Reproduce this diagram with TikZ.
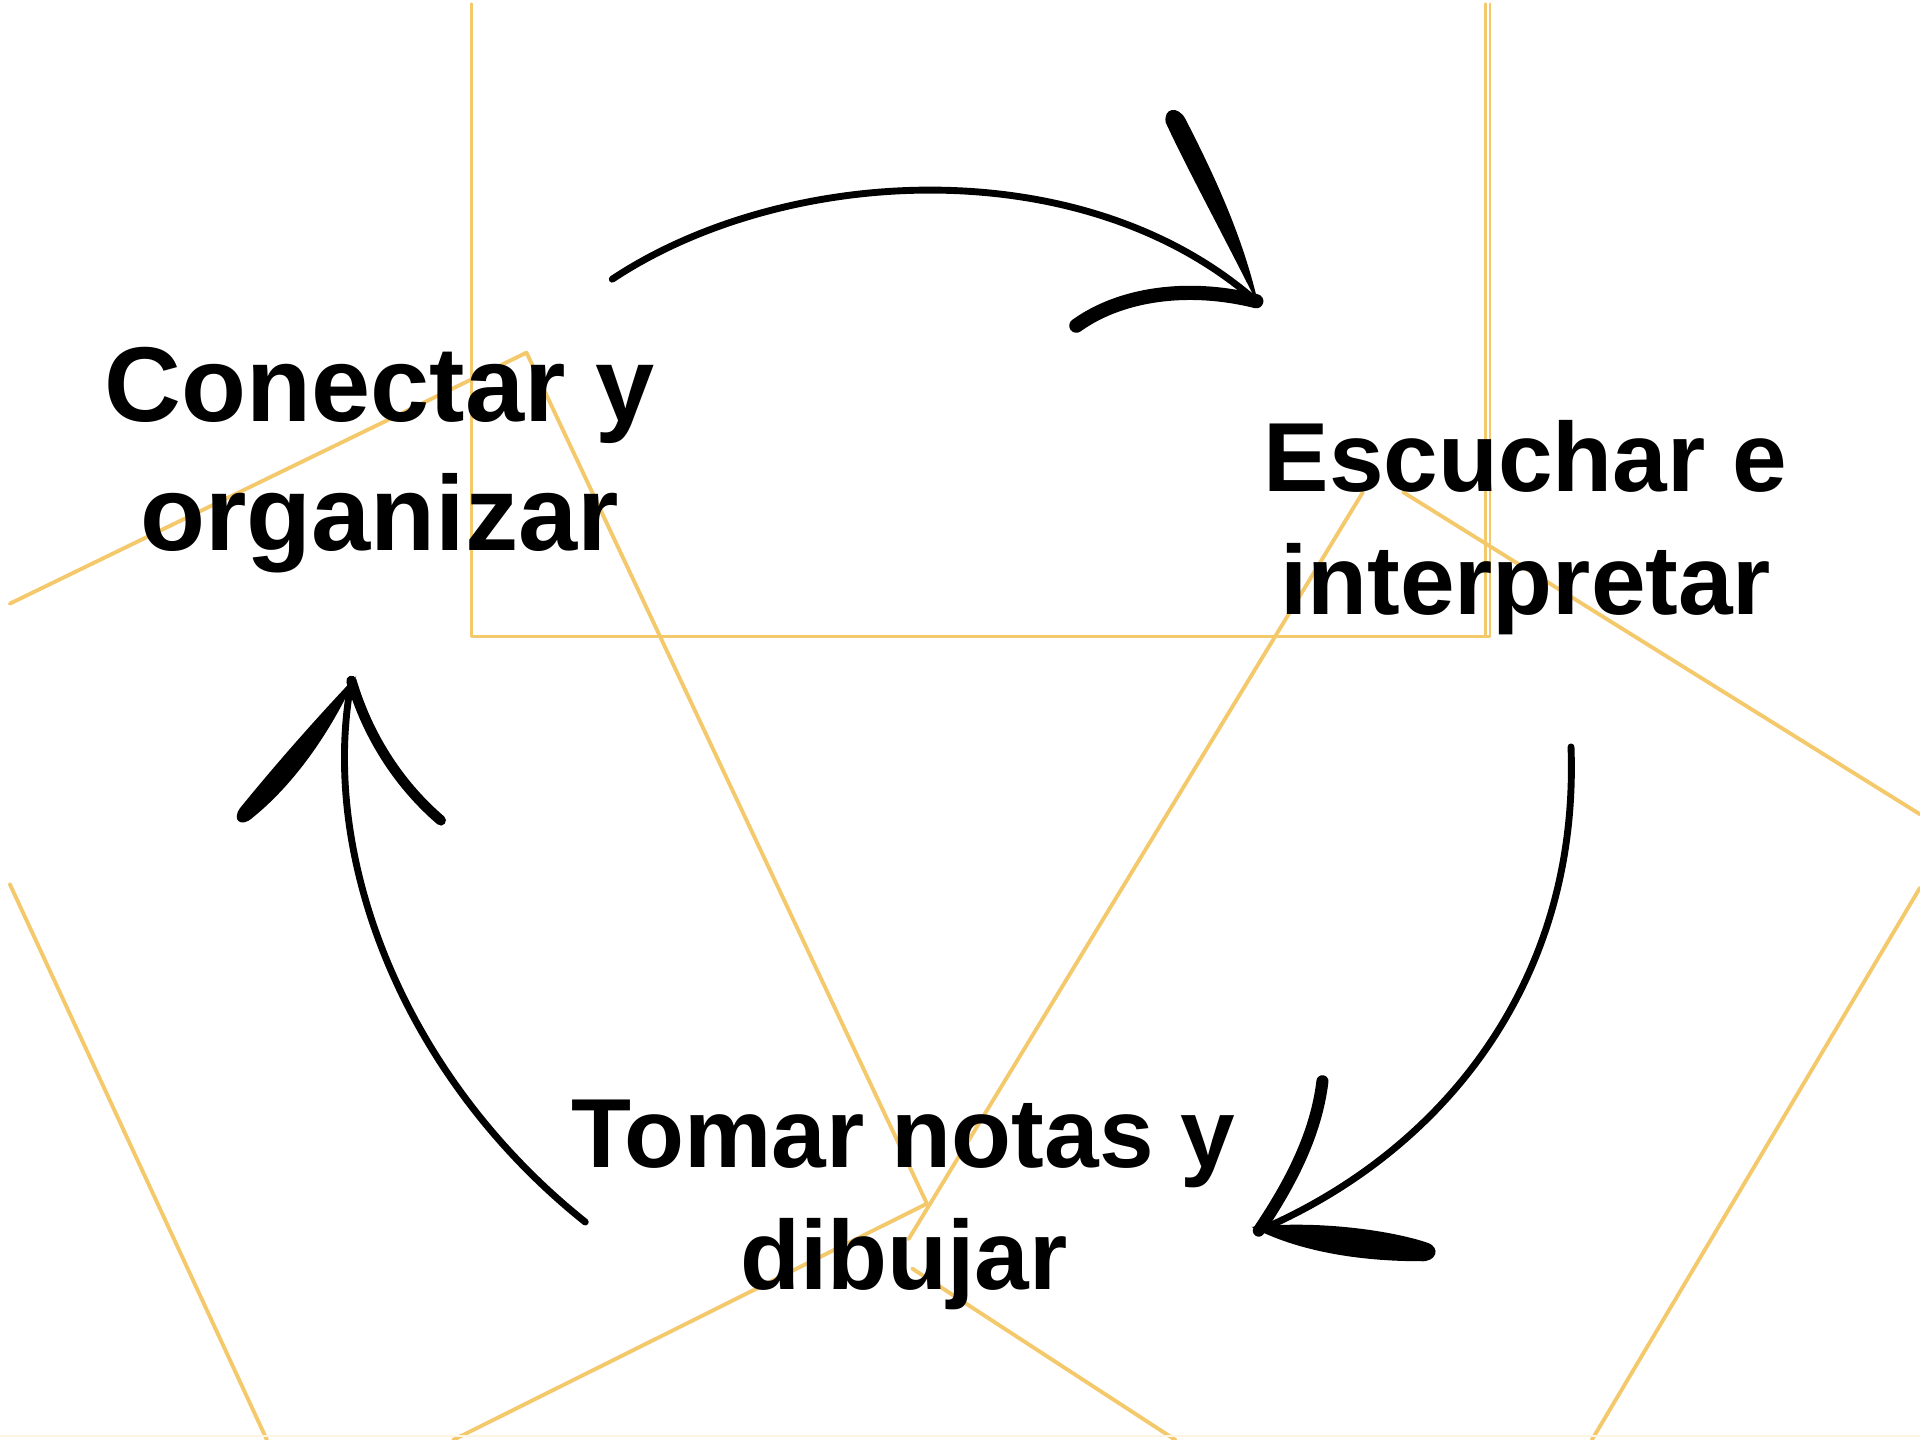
\documentclass[tikz,border=0pt]{standalone}
\usepackage{fontspec}
\setmainfont{Liberation Sans}
\definecolor{oro}{RGB}{244,201,108}

\begin{document}
\begin{tikzpicture}[x=0.01cm, y=-0.01cm, line cap=round, line join=round,
    fondo/.style={draw=oro, line width=0.9pt},
    marco/.style={draw=oro, line width=0.6pt},
    etiqueta/.style={align=center, inner sep=0pt, font=\bfseries\fontsize{22.8}{28.5}\selectfont},
    trazo/.style={draw=black, line width=1.6pt},
    punta/.style={draw=black, line width=2.8pt}]
    \useasboundingbox (0,0) rectangle (1568,1176);

    % 背景的金色线条
    \draw[marco] (385,3) -- (385,520) -- (1217,520) -- (1217,3);
    \draw[marco] (1213,3) -- (1213,520);
    \draw[fondo] (8,493) -- (430,288) -- (757,983);
    \draw[fondo] (1113,402) -- (742,1012);
    \draw[fondo] (370,1176) -- (757,983);
    \draw[fondo] (745,1036) -- (960,1176);
    \draw[fondo] (1146,402) -- (1568,665);
    \draw[fondo] (1568,725) -- (1300,1176);
    \draw[fondo] (8,722) -- (218,1176);
    \draw[draw=oro!20, line width=0.5pt] (0,1173) -- (1568,1173);

    % 三个标签
    \node[etiqueta, font=\bfseries\fontsize{24.7}{29.9}\selectfont] (conectar) at (310,376) {Conectar y\\organizar};
    \node[etiqueta] (escuchar) at (1246,431) {Escuchar e\\interpretar};
    \node[etiqueta] (tomar) at (738,984) {Tomar notas y\\dibujar};

    % 上方箭头
    \coordinate (a1) at (500,228);
    \coordinate (a2) at (1026,246);
    \draw[trazo] (a1) .. controls (640,135) and (884,121) .. (a2);
    \fill (1028,250) .. controls (998,190) and (968,135) .. (952,100)
               .. controls (950,88) and (962,86) .. (968,97)
               .. controls (990,140) and (1015,192) .. cycle;
    \draw[punta, line width=3.3pt] (a2) .. controls (970,232) and (915,240) .. (879,266);

    % 右侧箭头
    \coordinate (b1) at (1283,610);
    \coordinate (b2) at (1028,1005);
    \draw[trazo] (b1) .. controls (1290,800) and (1180,940) .. (b2);
    \draw[punta] (b2) .. controls (1055,965) and (1075,925) .. (1080,883);
    \fill (1022,1002) .. controls (1080,996) and (1140,1006) .. (1166,1015)
               .. controls (1177,1019) and (1173,1031) .. (1160,1030)
               .. controls (1110,1030) and (1060,1022) .. cycle;

    % 左侧箭头
    \coordinate (c1) at (478,998);
    \coordinate (c2) at (287,556);
    \draw[trazo] (c1) .. controls (330,880) and (260,700) .. (c2);
    \fill (291,552) .. controls (255,590) and (222,628) .. (196,660)
               .. controls (189,670) and (197,676) .. (206,668)
               .. controls (237,643) and (267,604) .. cycle;
    \draw[punta, line width=2.4pt] (c2) .. controls (300,600) and (325,640) .. (360,670);
\end{tikzpicture}
\end{document}
